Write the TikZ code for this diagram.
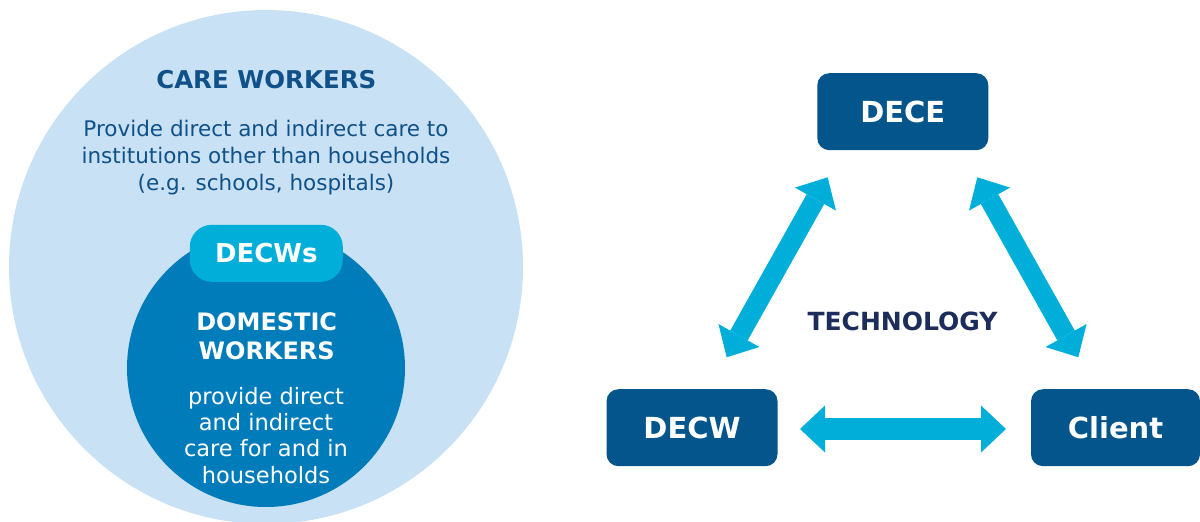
\documentclass[tikz,border=0pt]{standalone}
\usepackage{fontspec}
\setmainfont{DejaVu Sans}
\usetikzlibrary{arrows.meta}
\definecolor{paleblue}{HTML}{C8E1F4}
\definecolor{midblue}{HTML}{007CBA}
\definecolor{cyanblue}{HTML}{00AEDA}
\definecolor{darkblue}{HTML}{03558B}
\definecolor{inkblue}{HTML}{0F5188}
\definecolor{navy}{HTML}{1C2C5B}
\tikzset{box/.style = {fill=darkblue, rounded corners=12pt, minimum width=171pt,
                       minimum height=77pt, text=white,
                       font=\bfseries\fontsize{29}{34}\selectfont}}
\tikzset{tag/.style = {fill=cyanblue, rounded corners=22pt, minimum width=153pt,
                       minimum height=57pt, text=white,
                       font=\bfseries\fontsize{26}{30}\selectfont}}
\tikzset{head/.style = {anchor=base, inner sep=0, font=\bfseries\fontsize{24.5}{29}\selectfont}}
\tikzset{body/.style = {anchor=base, inner sep=0, font=\fontsize{21.5}{26}\selectfont}}
\tikzset{link/.style = {draw=cyanblue, line width=20pt,
                        >={Triangle[length=25pt, width=47pt, line width=0pt]}, <->}}

\begin{document}
\begin{tikzpicture}[x=1pt, y=-1pt]
      \useasboundingbox (0, 0) rectangle (1200, 522);

      % left: care workers and domestic workers
      \fill [paleblue] (266, 267) circle (257pt);
      \node [circle, fill=midblue, minimum size=278pt, inner sep=0] (domestic) at (266, 368) {};
      \node [tag] (decws) at (266.3, 253.3) {DECWs};

      \node [head, text=inkblue] (care) at (266.3, 88.3) {CARE WORKERS};
      \foreach \txt [count=\i] in {Provide direct and indirect care to,
                                   institutions other than households,
                                   {(e.g. schools, hospitals)}} {
        \node [body, text=inkblue] (care\i) at (266, {136.7 + 27*(\i-1)}) {\txt};
      }

      \node [head, text=white, font=\bfseries\fontsize{24}{29}\selectfont] (dom1) at (266.7, 330) {DOMESTIC};
      \node [head, text=white, font=\bfseries\fontsize{24}{29}\selectfont] (dom2) at (266.7, 359.3) {WORKERS};
      \foreach \txt [count=\i] in {provide direct, and indirect, care for and in, households} {
        \node [body, text=white, font=\fontsize{22.5}{26}\selectfont] (dom\i) at (266, {404.3 + 26.3*(\i-1)}) {\txt};
      }

      % right: technology triangle
      \node [box] (dece) at (902.8, 111.7) {DECE};
      \node [box] (decw) at (692, 427.7) {DECW};
      \node [box, minimum width=169pt] (client) at (1115.5, 427.7) {Client};
      \node [head, text=navy, font=\bfseries\fontsize{25}{29}\selectfont] (tech) at (902.5, 330) {TECHNOLOGY};

      \coordinate (ltop) at (827.7, 177.3);
      \coordinate (lbot) at (726.7, 357.3);
      \coordinate (rtop) at (977.3, 177.3);
      \coordinate (rbot) at (1078.3, 357.3);
      \coordinate (hleft) at (800, 429);
      \coordinate (hright) at (1006, 429);

      \draw [link] (ltop) -- (lbot);
      \draw [link] (rtop) -- (rbot);
      \draw [link, line width=22pt] (hleft) -- (hright);
    \end{tikzpicture}
\end{document}
